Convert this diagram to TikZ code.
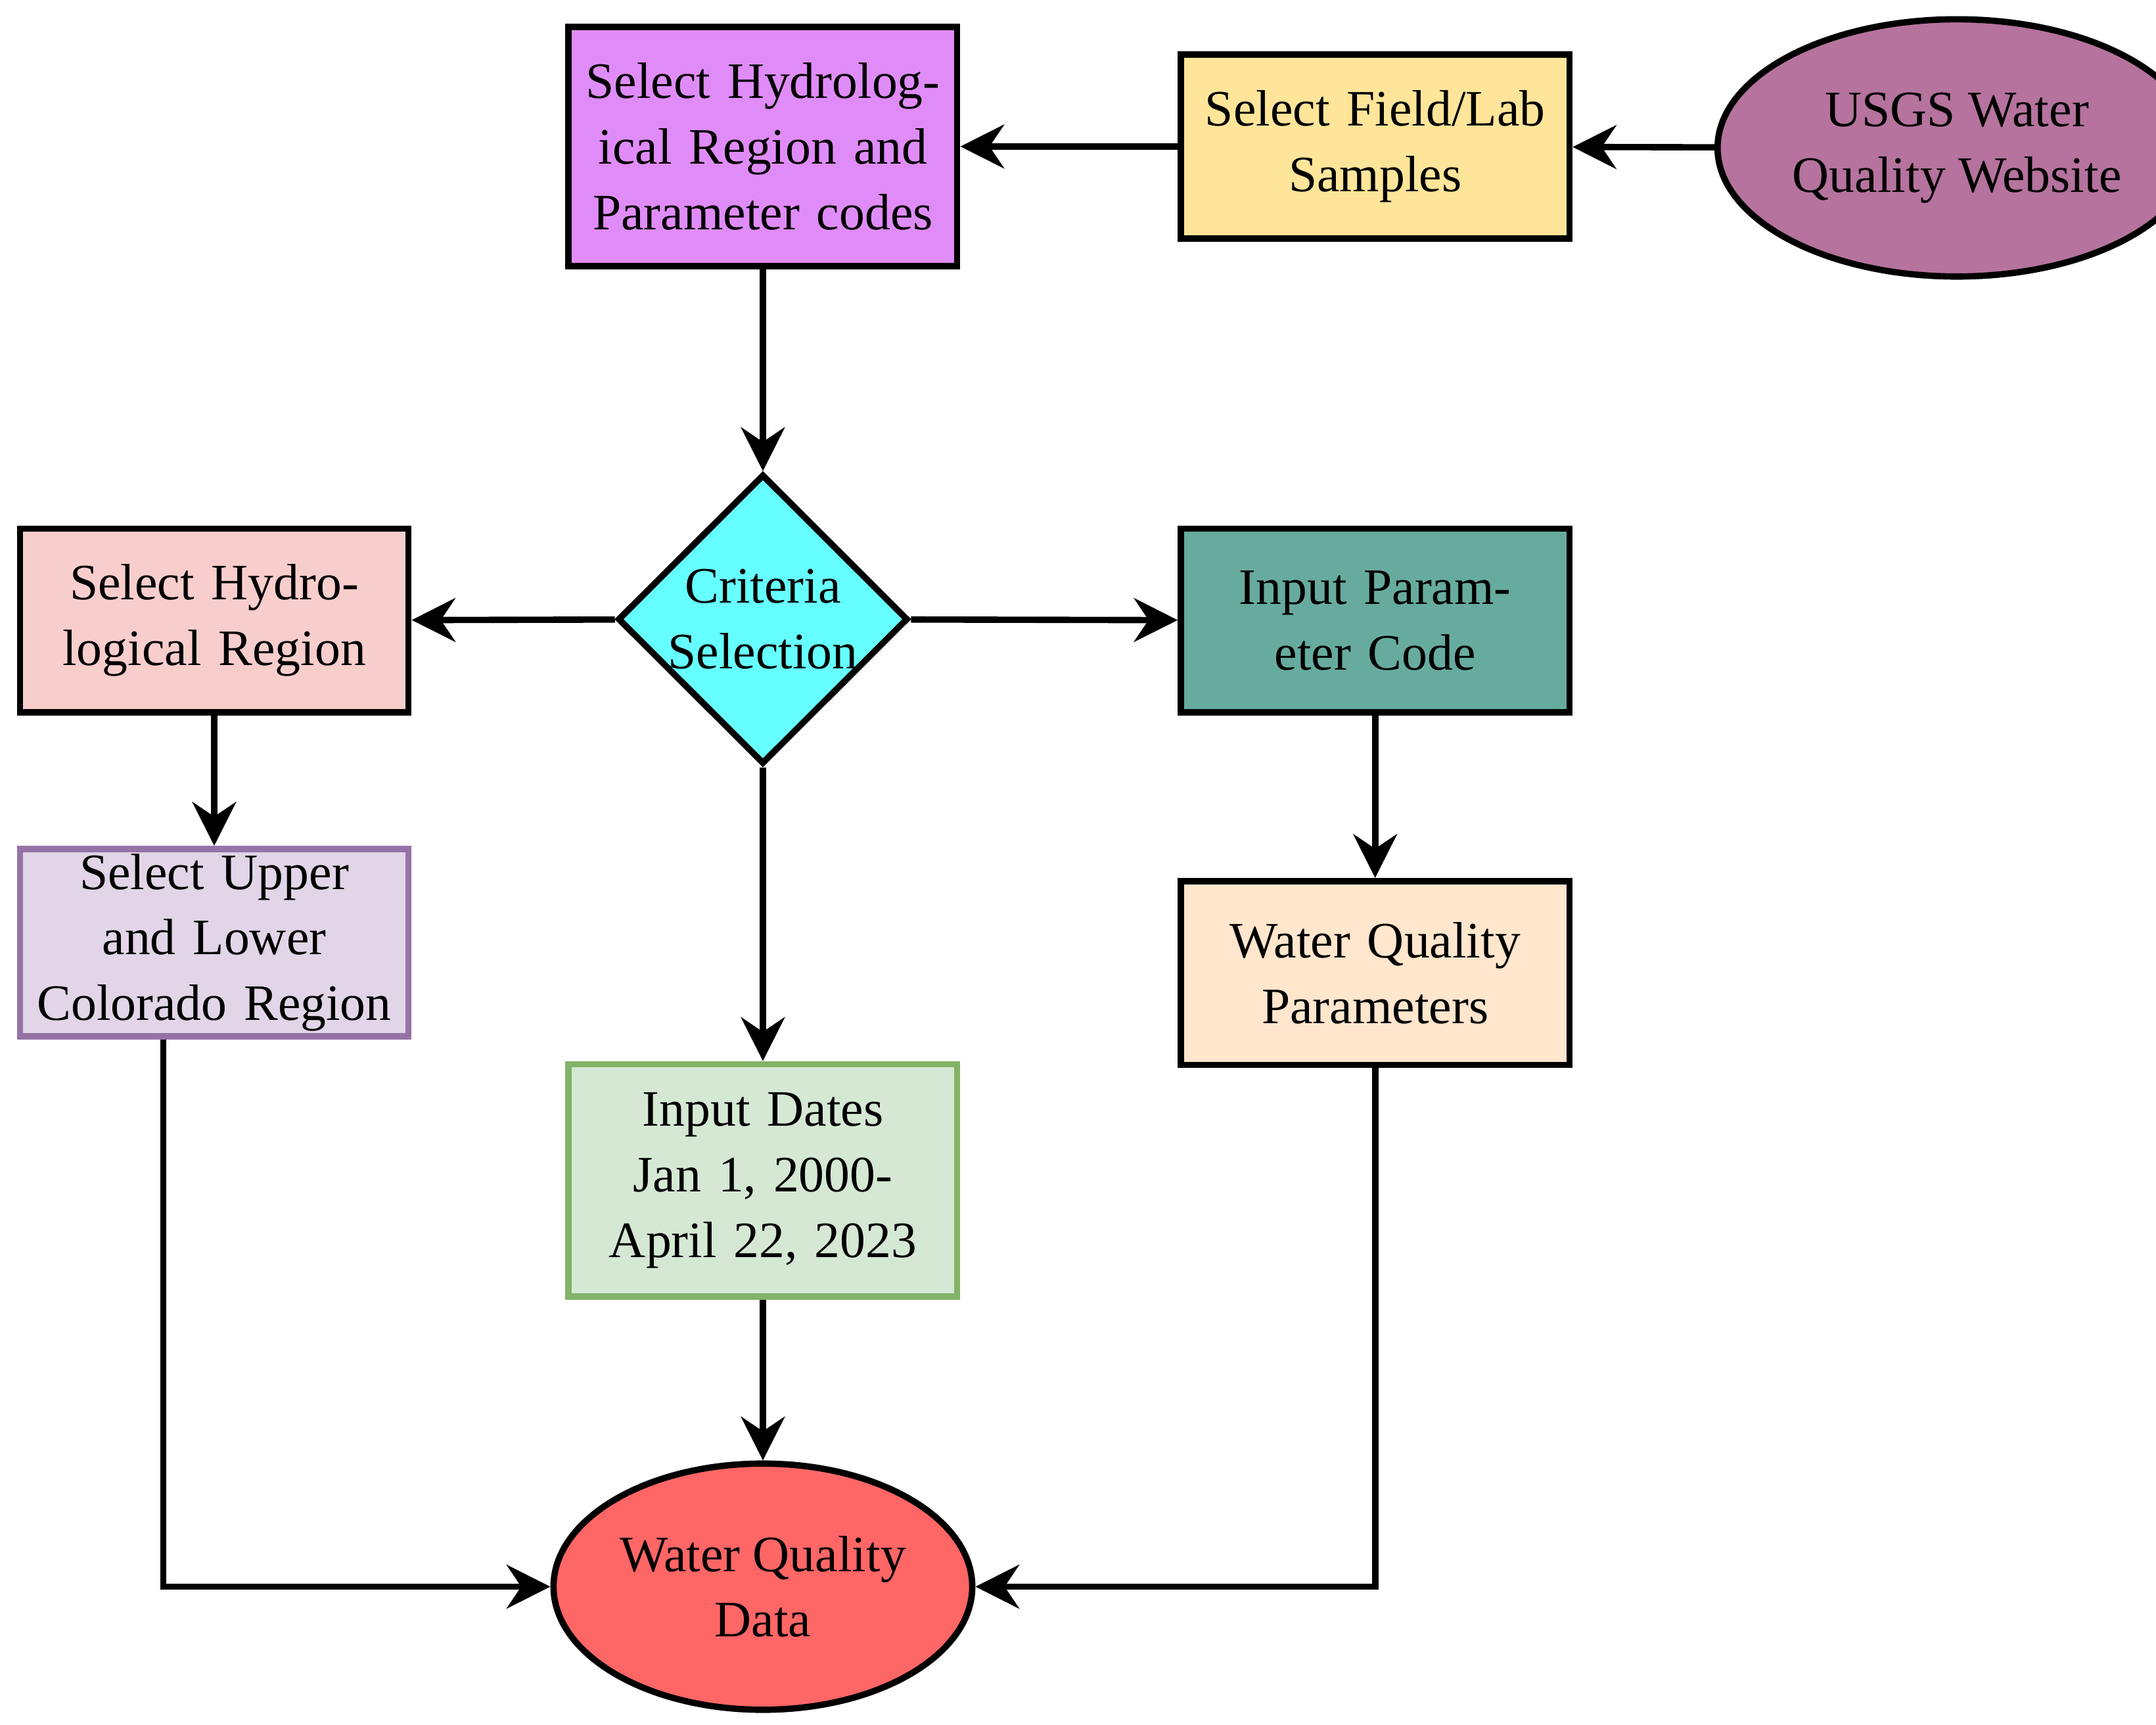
\documentclass[tikz,border=0pt]{standalone}
\usepackage{fontspec}
\setmainfont{Liberation Serif}
\usetikzlibrary{shapes.geometric,arrows.meta}
\definecolor{cpurple}{HTML}{E08CF8}
\definecolor{cyellow}{HTML}{FFE599}
\definecolor{cusgs}{HTML}{B5739D}
\definecolor{ccyan}{HTML}{66FFFF}
\definecolor{cpink}{HTML}{F8CECC}
\definecolor{cteal}{HTML}{67AB9F}
\definecolor{clav}{HTML}{E1D5E7}
\definecolor{clavb}{HTML}{9673A6}
\definecolor{cpeach}{HTML}{FFE6CC}
\definecolor{cgreen}{HTML}{D5E8D4}
\definecolor{cgreenb}{HTML}{82B366}
\definecolor{cred}{HTML}{FF6666}
\tikzset{
  base/.style={draw=black,line width=1.3pt,align=center,font=\fontsize{10.5}{13.5}\selectfont,inner sep=1pt},
  box/.style={base,rectangle,minimum width=2.81cm,minimum height=1.33cm,text width=2.7cm},
  ell/.style={base,ellipse,minimum width=2.8cm,minimum height=1.86cm},
  arr/.style={line width=1.3pt,-{Stealth[length=9pt,width=9pt,inset=3pt]}}
}
\begin{document}
\begin{tikzpicture}[x=0.01cm,y=-0.01cm]
\useasboundingbox (0,0) rectangle (1560,1248);
\node[box,fill=cpurple,minimum height=1.73cm] (sel) at (552,106) {Select Hydrological Region and Parameter codes};
\node[box,fill=cyellow] (fld) at (995,106) {Select Field/Lab Samples};
\node[ell,fill=cusgs] (usgs) at (1416,107) {USGS Water\\Quality Website};
\node[base,diamond,fill=ccyan,minimum width=2.1cm,minimum height=2.0cm,inner sep=0pt] (crit) at (552,448) {Criteria\\Selection};
\node[box,fill=cpink] (hyd) at (155,449) {Select Hydrological Region};
\node[box,fill=cteal] (ipc) at (995,449) {Input Parameter Code};
\node[box,fill=clav,draw=clavb] (col) at (155,682) {Select Upper and Lower Colorado Region};
\node[box,fill=cpeach] (wqp) at (995,704) {Water Quality Parameters};
\node[box,fill=cgreen,draw=cgreenb,minimum height=1.68cm] (dat) at (552,854) {Input Dates Jan 1, 2000- April 22, 2023};
\node[base,ellipse,fill=cred,minimum width=2.92cm,minimum height=1.78cm] (wqd) at (552,1148) {Water Quality\\Data};
\draw[arr] (usgs) -- (fld);
\draw[arr] (fld) -- (sel);
\draw[arr] (sel) -- (crit);
\draw[arr] (crit) -- (hyd);
\draw[arr] (crit) -- (ipc);
\draw[arr] (crit) -- (dat);
\draw[arr] (hyd) -- (col);
\draw[arr] (ipc) -- (wqp);
\draw[arr] (dat) -- (wqd);
\draw[arr] (col.south west) ++(106,0) |- (wqd.west);
\draw[arr] (wqp) |- (wqd.east);
\end{tikzpicture}
\end{document}
